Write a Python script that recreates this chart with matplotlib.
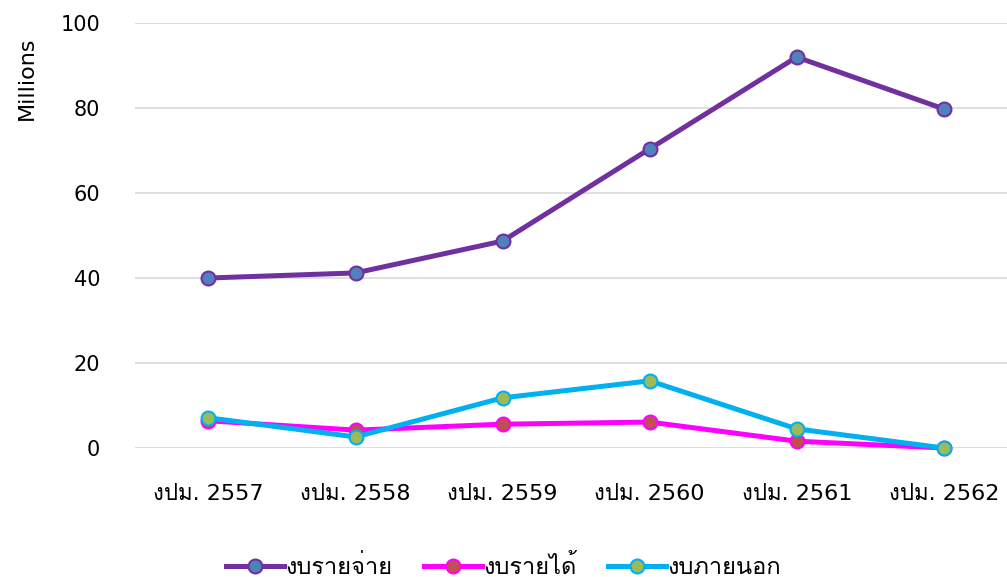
import matplotlib
matplotlib.use("Agg")
import matplotlib.pyplot as plt
from matplotlib import font_manager
from matplotlib.ft2font import FT2Font

years = ['งปม. 2557', 'งปม. 2558', 'งปม. 2559', 'งปม. 2560', 'งปม. 2561', 'งปม. 2562']
budget_spend = [40.0, 41.2, 48.7, 70.4, 92.0, 79.8]
budget_income = [6.4, 4.2, 5.6, 6.1, 1.6, 0.0]
budget_external = [7.1, 2.6, 11.8, 15.8, 4.5, 0.0]
series_names = ['งบรายจ่าย', 'งบรายได้', 'งบภายนอก']

# find a font that has Thai glyphs (used as fallback after DejaVu Sans)
thai_font = None
for f in font_manager.fontManager.ttflist:
    try:
        if 0x0E07 in FT2Font(f.fname).get_charmap():
            thai_font = f.name
            break
    except Exception:
        pass
families = ['DejaVu Sans', thai_font] if thai_font else ['DejaVu Sans']
plt.rcParams['font.family'] = families

fig = plt.figure(figsize=(10.07, 5.77), dpi=100)
ax = fig.add_axes([0.134, 0.2236, 0.866, 0.7364])

x = list(range(len(years)))
ax.plot(x, budget_spend, color='#7030A0', lw=3.6, marker='o', ms=10,
        mfc='#4F81BD', mec='#7030A0', mew=1.5, label=series_names[0], clip_on=False, zorder=3)
ax.plot(x, budget_income, color='#FF00FF', lw=3.6, marker='o', ms=10,
        mfc='#C0504D', mec='#FF00FF', mew=1.5, label=series_names[1], clip_on=False, zorder=4)
ax.plot(x, budget_external, color='#00B0F0', lw=3.6, marker='o', ms=10,
        mfc='#9BBB59', mec='#00B0F0', mew=1.5, label=series_names[2], clip_on=False, zorder=5)

ax.set_xlim(-0.5, 5.43)
ax.set_ylim(0, 100)
ax.set_yticks([0, 20, 40, 60, 80, 100])
ax.set_xticks(x)
ax.set_xticklabels(years)
ax.tick_params(axis='both', length=0, labelsize=15)
ax.tick_params(axis='x', labelsize=16, pad=26)
ax.tick_params(axis='y', pad=25)
ax.grid(axis='y', color='#D9D9D9', lw=1.2)
ax.set_axisbelow(True)
for s in ax.spines.values():
    s.set_visible(False)
ax.set_ylabel('Millions', fontsize=16)
ax.yaxis.set_label_coords(-0.113, 0.87)

fig.legend(loc='lower center', bbox_to_anchor=(0.5, -0.04), ncol=3, frameon=False,
           fontsize=17, handlelength=2.45, columnspacing=1.35, handletextpad=0.05)

fig.savefig('out.png', dpi=100)
